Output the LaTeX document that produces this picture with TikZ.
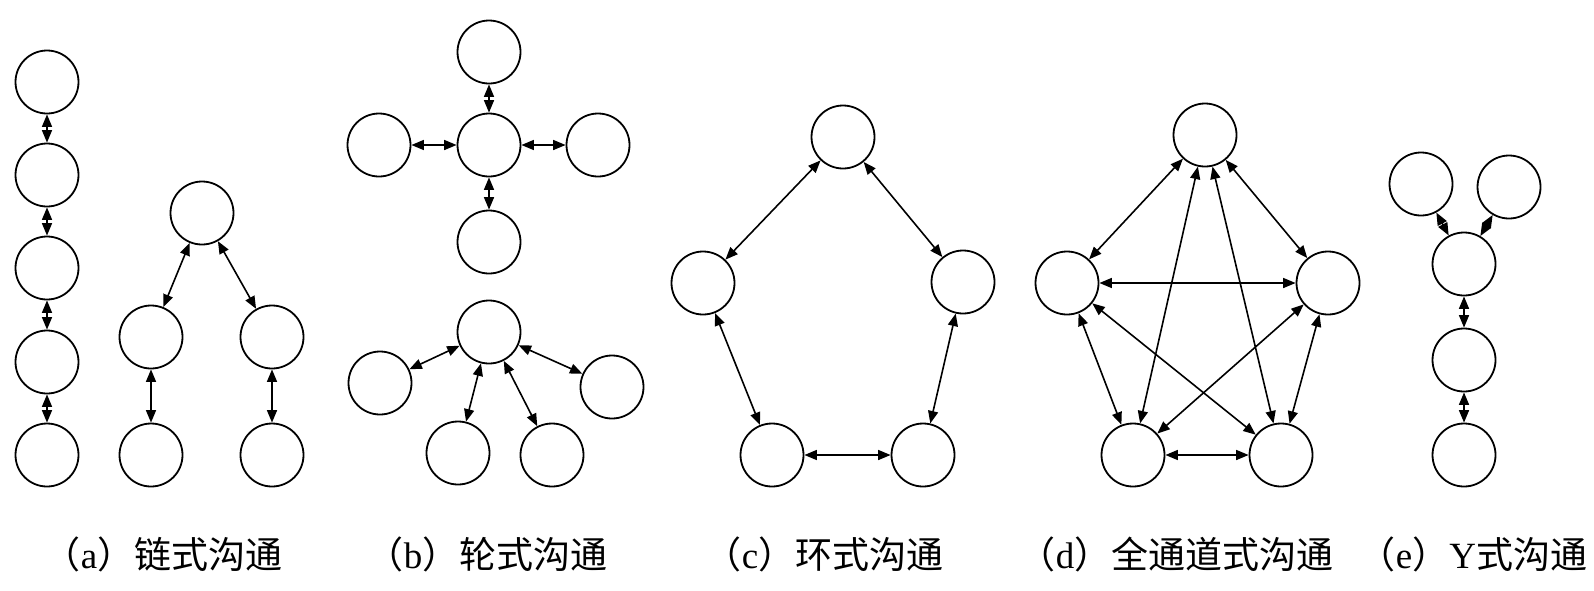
\documentclass[tikz,border=0pt]{standalone}
\usepackage{fontspec}
\setmainfont{Liberation Serif}
\newfontfamily\cjk{Noto Sans CJK SC}
\usetikzlibrary{arrows.meta}
\tikzset{
  nd/.style={circle, draw, line width=1.8pt, minimum size=63pt, inner sep=0pt},
  lk/.style={{Triangle[length=12.5pt,width=10pt]}-{Triangle[length=12.5pt,width=10pt]}, line width=1.6pt},
  captext/.style={font=\fontsize{37}{40}\selectfont, inner sep=0pt, anchor=center}
}
\newcommand{\lab}[2]{{\cjk （}#1{\cjk ）#2}}
\begin{document}
\begin{tikzpicture}[x=1pt,y=-1pt]
\useasboundingbox (0,0) rectangle (1594,590);
% (a) chain
\node[nd] (a1) at (47,82) {};
\node[nd] (a2) at (47,175) {};
\node[nd] (a3) at (47,268) {};
\node[nd] (a4) at (47,362) {};
\node[nd] (a5) at (47,455) {};
\draw[lk] (a1) -- (a2);
\draw[lk] (a2) -- (a3);
\draw[lk] (a3) -- (a4);
\draw[lk] (a4) -- (a5);
% (a) tree
\node[nd] (t1) at (202,213) {};
\node[nd] (t2) at (151,337) {};
\node[nd] (t3) at (272,337) {};
\node[nd] (t4) at (151,455) {};
\node[nd] (t5) at (272,455) {};
\draw[lk] (t1) -- (t2);
\draw[lk] (t1) -- (t3);
\draw[lk] (t2) -- (t4);
\draw[lk] (t3) -- (t5);
% (b) wheel
\node[nd] (w0) at (489,145) {};
\node[nd] (w1) at (489,52) {};
\node[nd] (w2) at (379,145) {};
\node[nd] (w3) at (598,145) {};
\node[nd] (w4) at (489,242) {};
\draw[lk] (w0) -- (w1);
\draw[lk] (w0) -- (w2);
\draw[lk] (w0) -- (w3);
\draw[lk] (w0) -- (w4);
% (b) fan
\node[nd] (f0) at (489,332) {};
\node[nd] (f1) at (380,383) {};
\node[nd] (f2) at (612,387) {};
\node[nd] (f3) at (458,453) {};
\node[nd] (f4) at (552,455) {};
\draw[lk] (f0) -- (f1);
\draw[lk] (f0) -- (f2);
\draw[lk] (f0) -- (f3);
\draw[lk] (f0) -- (f4);
% (c) ring
\node[nd] (c1) at (843,137) {};
\node[nd] (c2) at (703,283) {};
\node[nd] (c3) at (963,282) {};
\node[nd] (c4) at (772,455) {};
\node[nd] (c5) at (923,455) {};
\draw[lk] (c1) -- (c2);
\draw[lk] (c1) -- (c3);
\draw[lk] (c2) -- (c4);
\draw[lk] (c3) -- (c5);
\draw[lk] (c4) -- (c5);
% (d) all-channel
\node[nd] (d1) at (1205,135) {};
\node[nd] (d2) at (1067,283) {};
\node[nd] (d3) at (1328,283) {};
\node[nd] (d4) at (1133,455) {};
\node[nd] (d5) at (1281,455) {};
\draw[lk] (d1) -- (d2);
\draw[lk] (d1) -- (d3);
\draw[lk] (d1) -- (d4);
\draw[lk] (d1) -- (d5);
\draw[lk] (d2) -- (d3);
\draw[lk] (d2) -- (d4);
\draw[lk] (d2) -- (d5);
\draw[lk] (d3) -- (d4);
\draw[lk] (d3) -- (d5);
\draw[lk] (d4) -- (d5);
% (e) Y
\node[nd] (y1) at (1421,184) {};
\node[nd] (y2) at (1509,187) {};
\node[nd] (y3) at (1464,264) {};
\node[nd] (y4) at (1464,360) {};
\node[nd] (y5) at (1464,455) {};
\draw[lk] (y1) -- (y3);
\draw[lk] (y2) -- (y3);
\draw[lk] (y3) -- (y4);
\draw[lk] (y4) -- (y5);
% captions
\node[captext] (la) at (163,554) {\lab{a}{链式沟通}};
\node[captext] (lb) at (487,554) {\lab{b}{轮式沟通}};
\node[captext] (lc) at (824,554) {\lab{c}{环式沟通}};
\node[captext] (ld) at (1176,554) {\lab{d}{全通道式沟通}};
\node[captext] (le) at (1473,554) {\lab{e}{{\rmfamily Y}式沟通}};
\end{tikzpicture}
\end{document}
